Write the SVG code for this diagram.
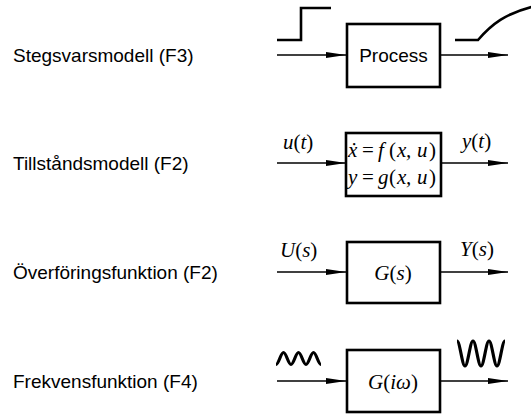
<svg xmlns="http://www.w3.org/2000/svg" width="531" height="415" viewBox="0 0 531 415">
<style>
.lbl{font-family:"Liberation Sans",Arial,sans-serif;font-size:19px;fill:#000}
.m{font-family:"Liberation Serif","DejaVu Serif",serif;font-size:21px;font-style:italic;fill:#000}
.u{font-style:normal}
.box{fill:#fff;stroke:#000;stroke-width:2.6}
.ar{stroke:#000;stroke-width:1.3;fill:none;marker-end:url(#ah)}
.sig{stroke:#000;stroke-width:2.6;fill:none;stroke-linejoin:miter}
.wav{stroke:#000;stroke-width:3.2;fill:none;stroke-linejoin:round}
</style>
<defs>
<marker id="ah" markerUnits="userSpaceOnUse" markerWidth="22" markerHeight="8" refX="20" refY="3" orient="auto">
<path d="M0,0 L20,3 L0,6 Z" fill="#000"/>
</marker>
</defs>
<rect width="531" height="415" fill="#fff"/>

<g id="labels">
<text class="lbl" x="13" y="62">Stegsvarsmodell (F3)</text>
<text class="lbl" x="13" y="170">Tillståndsmodell (F2)</text>
<text class="lbl" x="13" y="279">Överföringsfunktion (F2)</text>
<text class="lbl" x="13" y="388">Frekvensfunktion (F4)</text>
</g>

<g id="connectors">
<line class="ar" x1="277" y1="55" x2="346" y2="55"/>
<line class="ar" x1="440" y1="55" x2="508" y2="55"/>
<line class="ar" x1="277" y1="163" x2="346" y2="163"/>
<line class="ar" x1="441" y1="163" x2="508" y2="163"/>
<line class="ar" x1="277" y1="272" x2="346" y2="272"/>
<line class="ar" x1="440" y1="272" x2="508" y2="272"/>
<line class="ar" x1="277" y1="381" x2="346" y2="381"/>
<line class="ar" x1="440" y1="381" x2="508" y2="381"/>
</g>

<g id="signals">
<path class="sig" d="M277,40 H301 V8 H331"/>
<path class="sig" d="M455,40 H478 C490,26 505,12 540,5"/>
<path class="wav" d="M276,364.5 C278.73,364.5 280.77,352.5 283.5,352.5 S288.27,364.5 291,364.5 S295.77,352.5 298.5,352.5 S303.27,364.5 306,364.5 S310.77,352.5 313.5,352.5 S318.27,364.5 321,364.5"/>
<path class="wav" d="M457,341 C459.91,341 462.09,366 465,366 S470.09,341 473,341 S478.09,366 481,366 S486.09,341 489,341 S494.09,366 497,366 S502.09,341 505,341"/>
</g>

<g id="process">
<rect class="box" x="347" y="24" width="93" height="63"/>
<text class="lbl" x="393.5" y="62" text-anchor="middle">Process</text>
</g>

<g id="state">
<rect class="box" x="346" y="133" width="95" height="63"/>
<text class="m" y="157"><tspan x="348">ẋ</tspan><tspan class="u" x="362">=</tspan><tspan x="378">f</tspan><tspan class="u" x="389">(</tspan><tspan x="397">x</tspan><tspan x="406">,</tspan><tspan x="417">u</tspan><tspan class="u" x="429">)</tspan></text>
<text class="m" y="184"><tspan x="348">y</tspan><tspan class="u" x="362">=</tspan><tspan x="378">g</tspan><tspan class="u" x="389">(</tspan><tspan x="397">x</tspan><tspan x="406">,</tspan><tspan x="417">u</tspan><tspan class="u" x="429">)</tspan></text>
<text class="m" x="283" y="149">u<tspan class="u">(</tspan>t<tspan class="u">)</tspan></text>
<text class="m" x="462" y="148">y<tspan class="u">(</tspan>t<tspan class="u">)</tspan></text>
</g>

<g id="transfer">
<rect class="box" x="347" y="242" width="93" height="61"/>
<text class="m" x="393" y="280" text-anchor="middle">G<tspan class="u">(</tspan>s<tspan class="u">)</tspan></text>
<text class="m" x="280" y="257">U<tspan class="u">(</tspan>s<tspan class="u">)</tspan></text>
<text class="m" x="460" y="256">Y<tspan class="u">(</tspan>s<tspan class="u">)</tspan></text>
</g>

<g id="frequency">
<rect class="box" x="347" y="350" width="93" height="62"/>
<text class="m" x="393" y="389" text-anchor="middle">G<tspan class="u">(</tspan>iω<tspan class="u">)</tspan></text>
</g>
</svg>
